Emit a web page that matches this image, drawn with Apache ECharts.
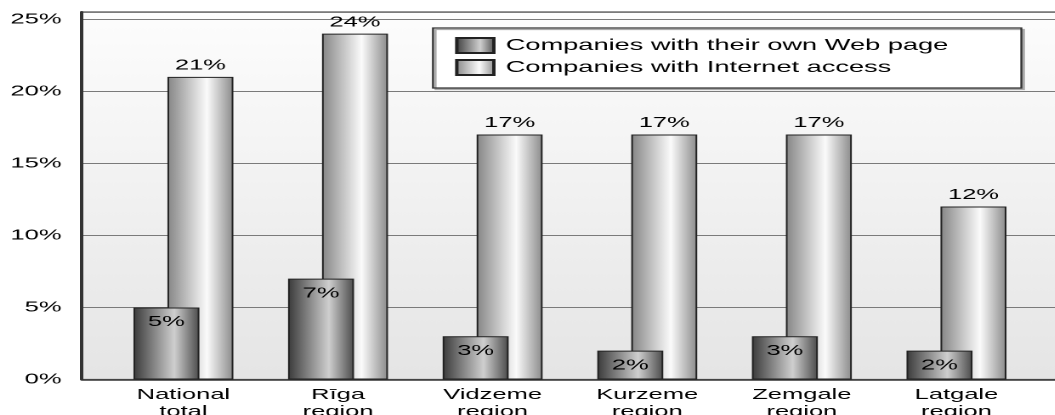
<!DOCTYPE html>
<html>
<head>
<meta charset="utf-8">
<script src="https://cdn.jsdelivr.net/npm/echarts@6/dist/echarts.min.js"></script>
<style>
html,body{margin:0;padding:0;background:#fff;overflow:hidden;width:1055px;height:415px;}
#chart{width:620.6px;height:415px;transform:scaleX(1.7);transform-origin:0 0;}
</style>
</head>
<body>
<div id="chart"></div>
<script>
const categories = ['National\ntotal', 'Rīga\nregion', 'Vidzeme\nregion', 'Kurzeme\nregion', 'Zemgale\nregion', 'Latgale\nregion'];
const webPage = [5, 7, 3, 2, 3, 2];
const internetAccess = [21, 24, 17, 17, 17, 12];
const seriesNames = ['Companies with their own Web page', 'Companies with Internet access'];
const yTicks = [0, 5, 10, 15, 20, 25];

const FONT = 'Liberation Sans';
const chart = echarts.init(document.getElementById('chart'), null, {devicePixelRatio: 2});
const G = echarts.graphic.LinearGradient;
const darkFill = new G(0, 0, 1, 0, [
  {offset: 0, color: '#3a3a3a'}, {offset: 0.62, color: '#cfcfcf'}, {offset: 1, color: '#4a4a4a'}]);
const lightFill = new G(0, 0, 1, 0, [
  {offset: 0, color: '#858585'}, {offset: 0.6, color: '#fbfbfb'}, {offset: 1, color: '#8a8a8a'}]);

chart.setOption({
  animation: false,
  grid: [
    {left: 48.2, right: -3, top: 12, bottom: 35.5, show: true, outerBoundsMode: 'none', containLabel: false,
     borderColor: '#555', borderWidth: 1.2,
     backgroundColor: new G(0, 0, 0, 1, [{offset: 0, color: '#fdfdfd'}, {offset: 1, color: '#e5e5e5'}])},
    {left: 62.4, right: 12.9, top: 12, bottom: 35.5, outerBoundsMode: 'none', containLabel: false}
  ],
  legend: {
    orient: 'vertical', left: 254.7, top: 28,
    data: seriesNames,
    icon: 'rect',
    itemWidth: 21.8, itemHeight: 15, itemGap: 5,
    padding: [9, 43, 12, 13],
    backgroundColor: '#fff', borderColor: '#333', borderWidth: 1.2,
    shadowColor: '#aaa', shadowOffsetX: 1.5, shadowOffsetY: 1.5, shadowBlur: 0,
    textStyle: {fontFamily: FONT, fontSize: 16, color: '#000', padding: [0, 0, 0, 2]}
  },
  xAxis: [
    {gridIndex: 0, type: 'value', min: 0, max: 1, axisLabel: {show: false}, axisTick: {show: false},
     splitLine: {show: false}, axisLine: {show: true, lineStyle: {color: '#333', width: 1.5}}},
    {gridIndex: 1, type: 'category', data: categories, axisLine: {show: false}, axisTick: {show: false},
     axisLabel: {fontFamily: FONT, fontSize: 15, lineHeight: 17, color: '#000', margin: 7, interval: 0}}
  ],
  yAxis: [
    {gridIndex: 0, type: 'value', min: 0, max: 25.5, interval: 5,
     axisLine: {show: true, lineStyle: {color: '#333', width: 2}}, axisTick: {show: false},
     axisLabel: {fontFamily: FONT, fontSize: 15, color: '#000', margin: 12, showMaxLabel: false,
       formatter: v => yTicks.includes(v) ? v + '%' : ''},
     splitLine: {show: true, lineStyle: {color: '#7a7a7a', width: 1}}},
    {gridIndex: 1, type: 'value', min: 0, max: 25.5, interval: 5, show: false, splitLine: {show: false}}
  ],
  series: [
    {name: seriesNames[0], type: 'bar', xAxisIndex: 1, yAxisIndex: 1, data: webPage, z: 3,
     barWidth: 38.8, barGap: '-48.5%',
     itemStyle: {color: darkFill, borderColor: '#222', borderWidth: 1},
     label: {show: true, position: 'insideTop', distance: 7, formatter: '{c}%',
       fontFamily: FONT, fontSize: 15, color: '#000'}},
    {name: seriesNames[1], type: 'bar', xAxisIndex: 1, yAxisIndex: 1, data: internetAccess, z: 2,
     barWidth: 38.8,
     itemStyle: {color: lightFill, borderColor: '#222', borderWidth: 1},
     label: {show: true, position: 'top', distance: 4, formatter: '{c}%',
       fontFamily: FONT, fontSize: 15, color: '#000'}}
  ]
});
</script>
</body>
</html>
